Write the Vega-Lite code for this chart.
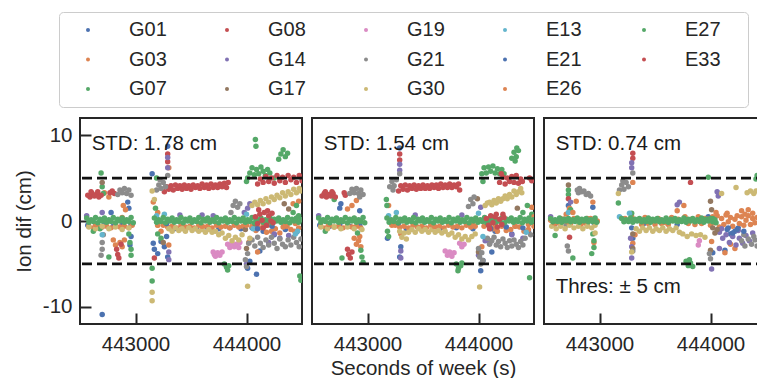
{
  "$schema": "https://vega.github.io/schema/vega-lite/v6.json",
  "padding": {"left": 13, "top": 11, "right": 5, "bottom": 0},
  "bounds": "flush",
  "datasets": {
    "thres": [{"v": 5}, {"v": -5}],
    "notes": [
      {"p": 1, "t": 442605, "v": 8.3, "txt": "STD: 1.78 cm"},
      {"p": 2, "t": 442605, "v": 8.3, "txt": "STD: 1.54 cm"},
      {"p": 3, "t": 442605, "v": 8.3, "txt": "STD: 0.74 cm"},
      {"p": 3, "t": 442605, "v": -8.4, "txt": "Thres: ± 5 cm"}
    ],
    "p1": [
      {"s":"G01","t":442570,"v":-0.5},{"s":"G01","t":442640,"v":-0.6},{"s":"G01","t":442720,"v":-0.4},{"s":"G01","t":442800,"v":-0.6},{"s":"G01","t":442880,"v":-0.5},{"s":"G01","t":442960,"v":-0.4},{"s":"G01","t":442700,"v":-10.9},{"s":"G01","t":442930,"v":2.2},{"s":"G01","t":442940,"v":1.5},{"s":"G01","t":442950,"v":-2.8},{"s":"G01","t":442960,"v":-1.8},{"s":"G01","t":442780,"v":1.0},{"s":"G01","t":443150,"v":5.5},{"s":"G01","t":443160,"v":-2.6},{"s":"G01","t":443170,"v":-3.3},{"s":"G01","t":443200,"v":-3.8},{"s":"G01","t":443230,"v":-2.4},{"s":"G01","t":443260,"v":-3.0},{"s":"G01","t":443290,"v":8.7},{"s":"G01","t":443290,"v":-4.2},{"s":"G01","t":443280,"v":-1.8},{"s":"G01","t":443350,"v":-0.9},{"s":"G01","t":443450,"v":-0.8},{"s":"G01","t":443550,"v":-0.9},{"s":"G01","t":443650,"v":-0.8},{"s":"G01","t":443750,"v":-0.9},{"s":"G01","t":443850,"v":-0.8},{"s":"G01","t":443950,"v":-0.9},{"s":"G01","t":444050,"v":-0.8},{"s":"G01","t":444010,"v":-5.5},{"s":"G01","t":444030,"v":-4.7},{"s":"G01","t":444090,"v":-6.2},{"s":"G01","t":444150,"v":-1.2},{"s":"G01","t":444250,"v":-1.6},{"s":"G01","t":444350,"v":-1.0},{"s":"G01","t":444450,"v":-1.3},{"s":"G01","t":444120,"v":-3.5},
      {"s":"G03","t":442580,"v":-0.6},{"s":"G03","t":442620,"v":-0.8},{"s":"G03","t":442660,"v":-0.5},{"s":"G03","t":442700,"v":-0.7},{"s":"G03","t":442740,"v":-0.6},{"s":"G03","t":442780,"v":-0.8},{"s":"G03","t":442820,"v":-0.5},{"s":"G03","t":442860,"v":-0.7},{"s":"G03","t":442900,"v":-0.6},{"s":"G03","t":442940,"v":-0.8},{"s":"G03","t":442970,"v":-0.5},{"s":"G03","t":442800,"v":-2.2},{"s":"G03","t":442820,"v":-2.8},{"s":"G03","t":442860,"v":-2.5},{"s":"G03","t":442880,"v":-3.0},{"s":"G03","t":442900,"v":-2.2},{"s":"G03","t":442910,"v":1.3},{"s":"G03","t":442890,"v":1.8},{"s":"G03","t":442720,"v":3.3},{"s":"G03","t":442760,"v":2.8},{"s":"G03","t":443160,"v":2.2},{"s":"G03","t":443200,"v":1.0},{"s":"G03","t":443230,"v":-1.2},{"s":"G03","t":443300,"v":6.2},{"s":"G03","t":443300,"v":-2.8},
      {"s":"G03","t":443250,"v":-0.5},{"s":"G03","t":443290,"v":-0.7},{"s":"G03","t":443330,"v":-0.6},{"s":"G03","t":443370,"v":-0.8},{"s":"G03","t":443410,"v":-0.5},{"s":"G03","t":443450,"v":-0.7},{"s":"G03","t":443490,"v":-0.6},{"s":"G03","t":443530,"v":-0.8},{"s":"G03","t":443570,"v":-0.5},{"s":"G03","t":443610,"v":-0.7},{"s":"G03","t":443650,"v":-0.6},{"s":"G03","t":443690,"v":-0.8},{"s":"G03","t":443730,"v":-0.5},{"s":"G03","t":443770,"v":-0.7},{"s":"G03","t":443810,"v":-0.6},{"s":"G03","t":443850,"v":-0.8},{"s":"G03","t":443890,"v":-0.5},{"s":"G03","t":443930,"v":-0.7},{"s":"G03","t":443970,"v":-0.6},
      {"s":"G03","t":444050,"v":-0.6},{"s":"G03","t":444085,"v":-1.1},{"s":"G03","t":444120,"v":-0.8},{"s":"G03","t":444155,"v":-0.7},{"s":"G03","t":444190,"v":-0.5},{"s":"G03","t":444225,"v":-1.2},{"s":"G03","t":444260,"v":-0.9},{"s":"G03","t":444330,"v":-0.7},{"s":"G03","t":444365,"v":-0.6},{"s":"G03","t":444400,"v":-1.0},{"s":"G03","t":444435,"v":-1.2},{"s":"G03","t":444470,"v":-0.8},{"s":"G03","t":444180,"v":-1.3},{"s":"G03","t":444300,"v":-1.4},{"s":"G03","t":444420,"v":2.0},{"s":"G03","t":444470,"v":2.3},{"s":"G03","t":444020,"v":-2.5},{"s":"G03","t":444100,"v":-3.6},{"s":"G03","t":444440,"v":-0.3},
      {"s":"G07","t":442690,"v":5.6},{"s":"G07","t":442700,"v":4.0},{"s":"G07","t":442710,"v":3.2},{"s":"G07","t":442680,"v":-0.9},{"s":"G07","t":442760,"v":-4.2},{"s":"G07","t":442940,"v":-1.5},{"s":"G07","t":442950,"v":-2.5},{"s":"G07","t":442960,"v":-3.3},{"s":"G07","t":442960,"v":-4.0},{"s":"G07","t":442620,"v":-1.2},{"s":"G07","t":443150,"v":-5.5},{"s":"G07","t":443150,"v":-7.0},{"s":"G07","t":443190,"v":5.0},{"s":"G07","t":443180,"v":1.5},{"s":"G07","t":443200,"v":-1.5},{"s":"G07","t":443230,"v":-2.0},{"s":"G07","t":443800,"v":-5.0},{"s":"G07","t":443820,"v":-5.4},{"s":"G07","t":443840,"v":-5.2},{"s":"G07","t":443830,"v":-5.7},{"s":"G07","t":444000,"v":4.6},{"s":"G07","t":444010,"v":5.0},{"s":"G07","t":444030,"v":5.6},{"s":"G07","t":444050,"v":6.2},{"s":"G07","t":444070,"v":5.4},{"s":"G07","t":444090,"v":6.0},{"s":"G07","t":444110,"v":5.5},{"s":"G07","t":444130,"v":6.3},{"s":"G07","t":444150,"v":5.8},{"s":"G07","t":444170,"v":5.3},{"s":"G07","t":444190,"v":6.0},{"s":"G07","t":444210,"v":5.6},{"s":"G07","t":444250,"v":5.0},{"s":"G07","t":444080,"v":9.5},{"s":"G07","t":444085,"v":8.7},{"s":"G07","t":444290,"v":7.2},{"s":"G07","t":444310,"v":7.8},{"s":"G07","t":444330,"v":8.3},{"s":"G07","t":444350,"v":7.5},{"s":"G07","t":444370,"v":7.9},{"s":"G07","t":444480,"v":-6.4},{"s":"G07","t":444490,"v":-6.9},{"s":"G07","t":444420,"v":1.0},{"s":"G07","t":444470,"v":0.6},{"s":"G07","t":444450,"v":1.8},
      {"s":"G08","t":442570,"v":3.0},{"s":"G08","t":442590,"v":2.8},{"s":"G08","t":442610,"v":3.2},{"s":"G08","t":442630,"v":2.9},{"s":"G08","t":442650,"v":3.1},{"s":"G08","t":442670,"v":2.8},{"s":"G08","t":442690,"v":3.0},{"s":"G08","t":442600,"v":3.4},{"s":"G08","t":442660,"v":3.4},{"s":"G08","t":442770,"v":3.3},{"s":"G08","t":442790,"v":3.5},{"s":"G08","t":442810,"v":3.2},{"s":"G08","t":442830,"v":-3.3},{"s":"G08","t":442840,"v":-3.9},{"s":"G08","t":442850,"v":-4.3},{"s":"G08","t":442870,"v":-2.7},{"s":"G08","t":443170,"v":-4.3},{"s":"G08","t":443290,"v":7.8},{"s":"G08","t":443290,"v":6.9},
      {"s":"G08","t":443260,"v":3.4},{"s":"G08","t":443280,"v":4.0},{"s":"G08","t":443300,"v":3.7},{"s":"G08","t":443320,"v":4.1},{"s":"G08","t":443340,"v":3.6},{"s":"G08","t":443360,"v":4.2},{"s":"G08","t":443380,"v":3.8},{"s":"G08","t":443400,"v":4.1},{"s":"G08","t":443420,"v":3.7},{"s":"G08","t":443440,"v":4.2},{"s":"G08","t":443460,"v":3.8},{"s":"G08","t":443480,"v":4.1},{"s":"G08","t":443500,"v":3.7},{"s":"G08","t":443520,"v":4.2},{"s":"G08","t":443540,"v":3.9},{"s":"G08","t":443560,"v":4.1},{"s":"G08","t":443580,"v":3.8},{"s":"G08","t":443600,"v":4.3},{"s":"G08","t":443620,"v":3.9},{"s":"G08","t":443640,"v":4.2},{"s":"G08","t":443660,"v":3.8},{"s":"G08","t":443680,"v":4.3},{"s":"G08","t":443700,"v":3.9},{"s":"G08","t":443720,"v":4.2},{"s":"G08","t":443740,"v":3.9},{"s":"G08","t":443760,"v":4.3},{"s":"G08","t":443780,"v":4.0},{"s":"G08","t":443800,"v":4.4},{"s":"G08","t":443820,"v":3.9},{"s":"G08","t":443835,"v":4.5},
      {"s":"G14","t":442560,"v":0.6},{"s":"G14","t":442700,"v":1.0},{"s":"G14","t":443290,"v":7.4},{"s":"G14","t":443290,"v":6.2},{"s":"G14","t":443300,"v":-3.6},{"s":"G14","t":443300,"v":-4.5},{"s":"G14","t":443400,"v":0.7},{"s":"G14","t":443600,"v":0.7},{"s":"G14","t":443700,"v":0.6},{"s":"G14","t":443980,"v":1.0},{"s":"G14","t":444000,"v":-5.0},{"s":"G14","t":444010,"v":1.5},{"s":"G14","t":444030,"v":2.0},{"s":"G14","t":444200,"v":-2.5},{"s":"G14","t":444250,"v":-1.5},{"s":"G14","t":444300,"v":-2.0},{"s":"G14","t":444380,"v":-1.7},
      {"s":"G17","t":442700,"v":4.5},{"s":"G17","t":443250,"v":-2.5},{"s":"G17","t":443990,"v":-1.0},{"s":"G17","t":444000,"v":-3.2},{"s":"G17","t":444080,"v":-0.5},{"s":"G17","t":444340,"v":2.0},{"s":"G17","t":444380,"v":1.4},
      {"s":"G19","t":443700,"v":-3.6},{"s":"G19","t":443710,"v":-3.9},{"s":"G19","t":443720,"v":-4.1},{"s":"G19","t":443740,"v":-3.7},{"s":"G19","t":443760,"v":-4.0},{"s":"G19","t":443780,"v":-3.6},{"s":"G19","t":443830,"v":-2.7},{"s":"G19","t":443850,"v":-3.1},{"s":"G19","t":443870,"v":-2.6},{"s":"G19","t":443890,"v":-3.0},{"s":"G19","t":443910,"v":-2.7},{"s":"G19","t":443930,"v":-3.1},{"s":"G19","t":443940,"v":-2.5},
      {"s":"G21","t":442840,"v":3.1},{"s":"G21","t":442860,"v":3.6},{"s":"G21","t":442880,"v":3.3},{"s":"G21","t":442900,"v":3.8},{"s":"G21","t":442920,"v":3.2},{"s":"G21","t":442940,"v":3.6},{"s":"G21","t":442960,"v":3.0},{"s":"G21","t":442700,"v":-2.5},{"s":"G21","t":442700,"v":-3.3},{"s":"G21","t":442690,"v":-4.0},{"s":"G21","t":442710,"v":-1.6},{"s":"G21","t":443190,"v":3.6},{"s":"G21","t":443210,"v":4.2},{"s":"G21","t":443230,"v":3.8},{"s":"G21","t":443250,"v":4.5},{"s":"G21","t":443270,"v":4.0},{"s":"G21","t":443220,"v":4.8},{"s":"G21","t":443290,"v":5.3},{"s":"G21","t":443860,"v":1.0},{"s":"G21","t":443880,"v":1.8},{"s":"G21","t":443900,"v":2.3},{"s":"G21","t":443920,"v":1.6},{"s":"G21","t":443940,"v":2.0},{"s":"G21","t":443990,"v":-4.5},{"s":"G21","t":444000,"v":-5.3},{"s":"G21","t":444010,"v":-3.8},{"s":"G21","t":444020,"v":-2.6},
      {"s":"G21","t":444050,"v":-2.2},{"s":"G21","t":444075,"v":-2.9},{"s":"G21","t":444100,"v":-1.9},{"s":"G21","t":444125,"v":-2.6},{"s":"G21","t":444150,"v":-3.1},{"s":"G21","t":444175,"v":-2.2},{"s":"G21","t":444200,"v":-2.8},{"s":"G21","t":444225,"v":-1.9},{"s":"G21","t":444250,"v":-2.6},{"s":"G21","t":444275,"v":-3.2},{"s":"G21","t":444300,"v":-2.1},{"s":"G21","t":444325,"v":-2.7},{"s":"G21","t":444350,"v":-3.0},{"s":"G21","t":444375,"v":-2.2},{"s":"G21","t":444400,"v":-2.8},{"s":"G21","t":444425,"v":-1.9},{"s":"G21","t":444450,"v":-2.5},{"s":"G21","t":444475,"v":-3.0},{"s":"G21","t":444490,"v":-2.1},
      {"s":"G30","t":442580,"v":-0.7},{"s":"G30","t":442640,"v":-0.9},{"s":"G30","t":442700,"v":-0.6},{"s":"G30","t":442760,"v":-0.9},{"s":"G30","t":442820,"v":-0.7},{"s":"G30","t":442880,"v":-1.0},{"s":"G30","t":442940,"v":-0.8},{"s":"G30","t":443150,"v":-8.3},{"s":"G30","t":443150,"v":-9.3},{"s":"G30","t":443150,"v":3.5},{"s":"G30","t":443170,"v":2.5},{"s":"G30","t":443200,"v":-0.5},
      {"s":"G30","t":443300,"v":-0.9},{"s":"G30","t":443330,"v":-1.2},{"s":"G30","t":443360,"v":-0.8},{"s":"G30","t":443390,"v":-1.1},{"s":"G30","t":443420,"v":-0.9},{"s":"G30","t":443450,"v":-1.2},{"s":"G30","t":443480,"v":-0.8},{"s":"G30","t":443510,"v":-1.1},{"s":"G30","t":443540,"v":-0.9},{"s":"G30","t":443570,"v":-1.2},{"s":"G30","t":443600,"v":-1.0},{"s":"G30","t":443630,"v":-1.3},{"s":"G30","t":443660,"v":-1.0},{"s":"G30","t":443690,"v":-1.3},{"s":"G30","t":443720,"v":-1.2},{"s":"G30","t":443750,"v":-1.6},{"s":"G30","t":443780,"v":-1.4},{"s":"G30","t":443810,"v":-2.0},{"s":"G30","t":443840,"v":-1.7},{"s":"G30","t":443870,"v":-2.3},{"s":"G30","t":443900,"v":-1.9},{"s":"G30","t":443930,"v":-2.2},{"s":"G30","t":443960,"v":-1.6},
      {"s":"G30","t":444010,"v":-7.6},{"s":"G30","t":444030,"v":-2.0},
      {"s":"G30","t":444050,"v":1.8},{"s":"G30","t":444075,"v":2.2},{"s":"G30","t":444100,"v":1.9},{"s":"G30","t":444125,"v":2.4},{"s":"G30","t":444150,"v":2.0},{"s":"G30","t":444175,"v":2.6},{"s":"G30","t":444200,"v":2.2},{"s":"G30","t":444225,"v":2.8},{"s":"G30","t":444250,"v":2.5},{"s":"G30","t":444275,"v":3.0},{"s":"G30","t":444300,"v":2.7},{"s":"G30","t":444325,"v":3.3},{"s":"G30","t":444350,"v":2.9},{"s":"G30","t":444375,"v":3.4},{"s":"G30","t":444400,"v":3.1},{"s":"G30","t":444425,"v":3.7},{"s":"G30","t":444450,"v":3.3},{"s":"G30","t":444475,"v":3.8},{"s":"G30","t":444490,"v":3.5},
      {"s":"E13","t":442700,"v":-1.6},{"s":"E13","t":443190,"v":0.6},{"s":"E13","t":443260,"v":0.8},{"s":"E13","t":444000,"v":0.8},{"s":"E13","t":444060,"v":-0.9},{"s":"E13","t":444440,"v":-1.5},{"s":"E13","t":444460,"v":-1.2},
      {"s":"E21","t":443280,"v":-0.3},{"s":"E21","t":444100,"v":-0.9},{"s":"E21","t":444230,"v":-0.6},{"s":"E21","t":444350,"v":-0.4},
      {"s":"E26","t":442640,"v":-0.4},{"s":"E26","t":442880,"v":0.4},{"s":"E26","t":443200,"v":-0.5},{"s":"E26","t":443600,"v":-0.6},{"s":"E26","t":444000,"v":-0.5},{"s":"E26","t":444150,"v":-0.3},{"s":"E26","t":444350,"v":-0.5},{"s":"E26","t":444450,"v":-0.2},
      {"s":"E27","t":442560,"v":0.35},{"s":"E27","t":442580,"v":-0.15},{"s":"E27","t":442600,"v":0.15},{"s":"E27","t":442620,"v":-0.05},{"s":"E27","t":442640,"v":0.4},{"s":"E27","t":442660,"v":-0.2},{"s":"E27","t":442680,"v":0.2},{"s":"E27","t":442700,"v":0.0},{"s":"E27","t":442720,"v":0.35},{"s":"E27","t":442740,"v":-0.15},{"s":"E27","t":442760,"v":0.15},{"s":"E27","t":442780,"v":-0.05},{"s":"E27","t":442800,"v":0.4},{"s":"E27","t":442820,"v":-0.2},{"s":"E27","t":442840,"v":0.2},{"s":"E27","t":442860,"v":0.0},{"s":"E27","t":442880,"v":0.35},{"s":"E27","t":442900,"v":-0.15},{"s":"E27","t":442920,"v":0.15},{"s":"E27","t":442940,"v":-0.05},{"s":"E27","t":442960,"v":0.4},{"s":"E27","t":442980,"v":-0.2},
      {"s":"E27","t":443170,"v":0.35},{"s":"E27","t":443190,"v":-0.15},{"s":"E27","t":443210,"v":0.15},{"s":"E27","t":443230,"v":-0.05},{"s":"E27","t":443250,"v":0.4},{"s":"E27","t":443270,"v":-0.2},{"s":"E27","t":443290,"v":0.2},{"s":"E27","t":443310,"v":0.0},{"s":"E27","t":443330,"v":0.35},{"s":"E27","t":443350,"v":-0.15},{"s":"E27","t":443370,"v":0.15},{"s":"E27","t":443390,"v":-0.05},{"s":"E27","t":443410,"v":0.4},{"s":"E27","t":443430,"v":-0.2},{"s":"E27","t":443450,"v":0.2},{"s":"E27","t":443470,"v":0.0},{"s":"E27","t":443490,"v":0.35},{"s":"E27","t":443510,"v":-0.15},{"s":"E27","t":443530,"v":0.15},{"s":"E27","t":443550,"v":-0.05},{"s":"E27","t":443570,"v":0.4},{"s":"E27","t":443590,"v":-0.2},{"s":"E27","t":443610,"v":0.2},{"s":"E27","t":443630,"v":0.0},{"s":"E27","t":443650,"v":0.35},{"s":"E27","t":443670,"v":-0.15},{"s":"E27","t":443690,"v":0.15},{"s":"E27","t":443710,"v":-0.05},{"s":"E27","t":443730,"v":0.4},{"s":"E27","t":443750,"v":-0.2},{"s":"E27","t":443770,"v":0.2},{"s":"E27","t":443790,"v":0.0},{"s":"E27","t":443810,"v":0.35},{"s":"E27","t":443830,"v":-0.15},{"s":"E27","t":443850,"v":0.15},{"s":"E27","t":443870,"v":-0.05},{"s":"E27","t":443890,"v":0.4},{"s":"E27","t":443910,"v":-0.2},{"s":"E27","t":443930,"v":0.2},{"s":"E27","t":443950,"v":0.0},{"s":"E27","t":443970,"v":0.35},{"s":"E27","t":443990,"v":-0.15},{"s":"E27","t":444010,"v":0.15},{"s":"E27","t":444030,"v":-0.05},{"s":"E27","t":444050,"v":0.4},{"s":"E27","t":444070,"v":-0.2},{"s":"E27","t":444090,"v":0.2},{"s":"E27","t":444110,"v":0.0},{"s":"E27","t":444130,"v":0.35},{"s":"E27","t":444150,"v":-0.15},{"s":"E27","t":444170,"v":0.15},{"s":"E27","t":444190,"v":-0.05},{"s":"E27","t":444210,"v":0.4},{"s":"E27","t":444230,"v":-0.2},{"s":"E27","t":444250,"v":0.2},{"s":"E27","t":444270,"v":0.0},{"s":"E27","t":444290,"v":0.35},{"s":"E27","t":444310,"v":-0.15},{"s":"E27","t":444330,"v":0.15},{"s":"E27","t":444350,"v":-0.05},{"s":"E27","t":444370,"v":0.4},{"s":"E27","t":444390,"v":-0.2},{"s":"E27","t":444410,"v":0.2},{"s":"E27","t":444430,"v":0.0},{"s":"E27","t":444450,"v":0.35},{"s":"E27","t":444470,"v":-0.15},{"s":"E27","t":444490,"v":0.15},
      {"s":"E33","t":444080,"v":0.5},{"s":"E33","t":444100,"v":-0.3},{"s":"E33","t":444110,"v":1.3},{"s":"E33","t":444120,"v":0.8},{"s":"E33","t":444140,"v":0.1},{"s":"E33","t":444150,"v":-0.8},{"s":"E33","t":444160,"v":1.0},{"s":"E33","t":444180,"v":-0.5},{"s":"E33","t":444190,"v":1.2},{"s":"E33","t":444200,"v":0.6},{"s":"E33","t":444220,"v":0.0},{"s":"E33","t":444230,"v":0.9},{"s":"E33","t":444240,"v":-0.2},
      {"s":"E33","t":444100,"v":4.3},{"s":"E33","t":444125,"v":4.9},{"s":"E33","t":444150,"v":4.5},{"s":"E33","t":444175,"v":5.2},{"s":"E33","t":444200,"v":4.6},{"s":"E33","t":444225,"v":5.0},{"s":"E33","t":444250,"v":4.4},{"s":"E33","t":444275,"v":5.3},{"s":"E33","t":444300,"v":4.7},{"s":"E33","t":444325,"v":5.1},{"s":"E33","t":444350,"v":4.5},{"s":"E33","t":444375,"v":5.3},{"s":"E33","t":444400,"v":4.8},{"s":"E33","t":444425,"v":5.1},{"s":"E33","t":444450,"v":4.5},{"s":"E33","t":444475,"v":5.3},{"s":"E33","t":444500,"v":4.7}
    ],
    "p2": [
      {"s":"G01","t":442570,"v":-0.5},{"s":"G01","t":442660,"v":-0.6},{"s":"G01","t":442750,"v":-0.4},{"s":"G01","t":442840,"v":-0.6},{"s":"G01","t":442930,"v":-0.5},{"s":"G01","t":442750,"v":1.5},{"s":"G01","t":442760,"v":2.0},{"s":"G01","t":442930,"v":1.2},{"s":"G01","t":443180,"v":-2.0},{"s":"G01","t":443290,"v":8.5},{"s":"G01","t":443300,"v":-3.0},{"s":"G01","t":443290,"v":-4.2},{"s":"G01","t":443350,"v":-0.9},{"s":"G01","t":443500,"v":-0.8},{"s":"G01","t":443650,"v":-0.9},{"s":"G01","t":443800,"v":-0.8},{"s":"G01","t":443950,"v":-0.9},{"s":"G01","t":444020,"v":-5.8},{"s":"G01","t":444040,"v":-4.6},{"s":"G01","t":444120,"v":-3.6},{"s":"G01","t":444150,"v":-1.2},{"s":"G01","t":444300,"v":-1.5},{"s":"G01","t":444450,"v":-1.2},
      {"s":"G03","t":442580,"v":-0.6},{"s":"G03","t":442620,"v":-0.8},{"s":"G03","t":442660,"v":-0.5},{"s":"G03","t":442700,"v":-0.7},{"s":"G03","t":442740,"v":-0.6},{"s":"G03","t":442780,"v":-0.8},{"s":"G03","t":442820,"v":-0.5},{"s":"G03","t":442860,"v":-0.7},{"s":"G03","t":442900,"v":-0.6},{"s":"G03","t":442940,"v":-0.8},{"s":"G03","t":442880,"v":-2.0},{"s":"G03","t":442900,"v":-2.7},{"s":"G03","t":442920,"v":-2.3},{"s":"G03","t":442940,"v":-3.0},{"s":"G03","t":442930,"v":-1.8},{"s":"G03","t":442820,"v":1.4},{"s":"G03","t":442860,"v":1.8},{"s":"G03","t":442900,"v":2.4},{"s":"G03","t":443190,"v":1.8},{"s":"G03","t":443300,"v":-1.5},
      {"s":"G03","t":443250,"v":-0.5},{"s":"G03","t":443290,"v":-0.7},{"s":"G03","t":443330,"v":-0.6},{"s":"G03","t":443370,"v":-0.8},{"s":"G03","t":443410,"v":-0.5},{"s":"G03","t":443450,"v":-0.7},{"s":"G03","t":443490,"v":-0.6},{"s":"G03","t":443530,"v":-0.8},{"s":"G03","t":443570,"v":-0.5},{"s":"G03","t":443610,"v":-0.7},{"s":"G03","t":443650,"v":-0.6},{"s":"G03","t":443690,"v":-0.8},{"s":"G03","t":443730,"v":-0.5},{"s":"G03","t":443770,"v":-0.7},{"s":"G03","t":443810,"v":-0.6},{"s":"G03","t":443850,"v":-0.8},{"s":"G03","t":443890,"v":-0.5},{"s":"G03","t":443930,"v":-0.7},{"s":"G03","t":443970,"v":-0.6},
      {"s":"G03","t":444030,"v":-3.0},{"s":"G03","t":444050,"v":-0.6},{"s":"G03","t":444090,"v":-2.2},{"s":"G03","t":444130,"v":-0.9},{"s":"G03","t":444170,"v":-1.2},{"s":"G03","t":444210,"v":-0.6},{"s":"G03","t":444250,"v":-1.1},{"s":"G03","t":444290,"v":-1.0},{"s":"G03","t":444330,"v":-0.6},{"s":"G03","t":444370,"v":-0.7},{"s":"G03","t":444410,"v":-1.2},{"s":"G03","t":444450,"v":-1.0},{"s":"G03","t":444480,"v":1.6},{"s":"G03","t":444500,"v":-0.6},
      {"s":"G07","t":442620,"v":-1.2},{"s":"G07","t":442700,"v":2.5},{"s":"G07","t":442770,"v":-4.3},{"s":"G07","t":442910,"v":-1.4},{"s":"G07","t":442940,"v":-3.4},{"s":"G07","t":442950,"v":-4.2},{"s":"G07","t":442960,"v":-4.8},{"s":"G07","t":443170,"v":2.5},{"s":"G07","t":443175,"v":1.8},{"s":"G07","t":443180,"v":-1.2},{"s":"G07","t":443190,"v":-1.8},{"s":"G07","t":443800,"v":-5.0},{"s":"G07","t":443815,"v":-5.8},{"s":"G07","t":443820,"v":-5.5},{"s":"G07","t":443840,"v":-5.2},{"s":"G07","t":443850,"v":-4.9},{"s":"G07","t":444030,"v":5.5},{"s":"G07","t":444040,"v":4.6},{"s":"G07","t":444050,"v":6.2},{"s":"G07","t":444070,"v":5.6},{"s":"G07","t":444090,"v":6.3},{"s":"G07","t":444110,"v":5.8},{"s":"G07","t":444130,"v":6.4},{"s":"G07","t":444150,"v":5.6},{"s":"G07","t":444170,"v":6.1},{"s":"G07","t":444190,"v":5.5},{"s":"G07","t":444210,"v":6.0},{"s":"G07","t":444230,"v":5.5},{"s":"G07","t":444300,"v":7.3},{"s":"G07","t":444320,"v":8.0},{"s":"G07","t":444330,"v":7.0},{"s":"G07","t":444340,"v":7.5},{"s":"G07","t":444345,"v":8.5},{"s":"G07","t":444360,"v":8.2},{"s":"G07","t":444400,"v":1.0},{"s":"G07","t":444440,"v":1.8},{"s":"G07","t":444460,"v":-6.6},{"s":"G07","t":444480,"v":0.8},
      {"s":"G08","t":442590,"v":2.9},{"s":"G08","t":442610,"v":3.2},{"s":"G08","t":442620,"v":3.4},{"s":"G08","t":442630,"v":2.8},{"s":"G08","t":442650,"v":3.1},{"s":"G08","t":442670,"v":2.9},{"s":"G08","t":442680,"v":3.4},{"s":"G08","t":442690,"v":3.2},{"s":"G08","t":442710,"v":2.8},{"s":"G08","t":442790,"v":3.3},{"s":"G08","t":442800,"v":3.0},{"s":"G08","t":442820,"v":-3.3},{"s":"G08","t":442830,"v":-3.9},{"s":"G08","t":442845,"v":-4.3},{"s":"G08","t":442860,"v":-3.6},{"s":"G08","t":443290,"v":7.8},{"s":"G08","t":443290,"v":7.1},
      {"s":"G08","t":443280,"v":3.5},{"s":"G08","t":443300,"v":4.1},{"s":"G08","t":443320,"v":3.7},{"s":"G08","t":443340,"v":4.2},{"s":"G08","t":443360,"v":3.6},{"s":"G08","t":443380,"v":4.1},{"s":"G08","t":443400,"v":3.8},{"s":"G08","t":443420,"v":4.2},{"s":"G08","t":443440,"v":3.7},{"s":"G08","t":443460,"v":4.1},{"s":"G08","t":443480,"v":3.8},{"s":"G08","t":443500,"v":4.2},{"s":"G08","t":443520,"v":3.8},{"s":"G08","t":443540,"v":4.1},{"s":"G08","t":443560,"v":3.8},{"s":"G08","t":443580,"v":4.2},{"s":"G08","t":443600,"v":3.9},{"s":"G08","t":443620,"v":4.2},{"s":"G08","t":443640,"v":3.8},{"s":"G08","t":443660,"v":4.3},{"s":"G08","t":443680,"v":3.9},{"s":"G08","t":443700,"v":4.2},{"s":"G08","t":443720,"v":3.9},{"s":"G08","t":443740,"v":4.3},{"s":"G08","t":443760,"v":3.9},{"s":"G08","t":443780,"v":4.2},{"s":"G08","t":443800,"v":4.0},{"s":"G08","t":443820,"v":4.3},{"s":"G08","t":443830,"v":3.6},{"s":"G08","t":444460,"v":5.0},{"s":"G08","t":444480,"v":4.7},
      {"s":"G14","t":442560,"v":0.6},{"s":"G14","t":443290,"v":6.6},{"s":"G14","t":443290,"v":5.9},{"s":"G14","t":443300,"v":-3.5},{"s":"G14","t":443300,"v":-4.3},{"s":"G14","t":443430,"v":0.7},{"s":"G14","t":443850,"v":0.7},{"s":"G14","t":444000,"v":-4.0},{"s":"G14","t":444020,"v":1.6},{"s":"G14","t":444060,"v":-2.3},{"s":"G14","t":444100,"v":-2.6},{"s":"G14","t":444300,"v":-1.6},{"s":"G14","t":444400,"v":-2.0},
      {"s":"G17","t":443990,"v":2.6},{"s":"G17","t":444000,"v":-3.6},{"s":"G17","t":444100,"v":-0.6},{"s":"G17","t":444350,"v":1.5},
      {"s":"G19","t":443700,"v":-3.5},{"s":"G19","t":443720,"v":-4.0},{"s":"G19","t":443740,"v":-3.6},{"s":"G19","t":443760,"v":-4.1},{"s":"G19","t":443780,"v":-3.7},{"s":"G19","t":443830,"v":-2.6},{"s":"G19","t":443850,"v":-3.0},{"s":"G19","t":443870,"v":-2.7},
      {"s":"G21","t":442840,"v":3.2},{"s":"G21","t":442860,"v":3.7},{"s":"G21","t":442880,"v":3.3},{"s":"G21","t":442900,"v":3.8},{"s":"G21","t":442920,"v":3.2},{"s":"G21","t":442930,"v":2.8},{"s":"G21","t":442940,"v":3.6},{"s":"G21","t":442960,"v":3.1},{"s":"G21","t":443200,"v":4.0},{"s":"G21","t":443220,"v":4.6},{"s":"G21","t":443230,"v":3.6},{"s":"G21","t":443240,"v":4.1},{"s":"G21","t":443260,"v":4.8},{"s":"G21","t":443290,"v":5.5},{"s":"G21","t":443910,"v":1.7},{"s":"G21","t":443930,"v":2.5},{"s":"G21","t":443950,"v":2.0},{"s":"G21","t":443960,"v":2.8},{"s":"G21","t":444000,"v":-3.2},{"s":"G21","t":444010,"v":-4.2},{"s":"G21","t":444020,"v":-5.0},{"s":"G21","t":444030,"v":-3.7},{"s":"G21","t":444040,"v":-4.6},
      {"s":"G21","t":444080,"v":-2.0},{"s":"G21","t":444100,"v":-2.7},{"s":"G21","t":444120,"v":-2.3},{"s":"G21","t":444140,"v":-1.9},{"s":"G21","t":444160,"v":-2.8},{"s":"G21","t":444180,"v":-2.4},{"s":"G21","t":444200,"v":-3.0},{"s":"G21","t":444220,"v":-2.1},{"s":"G21","t":444240,"v":-2.6},{"s":"G21","t":444260,"v":-3.1},{"s":"G21","t":444280,"v":-2.3},{"s":"G21","t":444300,"v":-2.9},{"s":"G21","t":444320,"v":-2.2},{"s":"G21","t":444340,"v":-2.7},{"s":"G21","t":444360,"v":-3.1},{"s":"G21","t":444380,"v":-2.4},{"s":"G21","t":444400,"v":-2.8},{"s":"G21","t":444420,"v":-2.0},{"s":"G21","t":444470,"v":-1.6},
      {"s":"G30","t":442580,"v":-0.7},{"s":"G30","t":442640,"v":-0.9},{"s":"G30","t":442700,"v":-0.7},{"s":"G30","t":442760,"v":-0.9},{"s":"G30","t":442820,"v":-0.7},{"s":"G30","t":442880,"v":-0.9},{"s":"G30","t":442950,"v":-1.0},
      {"s":"G30","t":443290,"v":-1.2},{"s":"G30","t":443310,"v":-1.9},{"s":"G30","t":443330,"v":-1.4},{"s":"G30","t":443350,"v":-2.1},{"s":"G30","t":443370,"v":-1.3},{"s":"G30","t":443400,"v":-1.0},{"s":"G30","t":443430,"v":-1.3},{"s":"G30","t":443460,"v":-0.9},{"s":"G30","t":443490,"v":-1.2},{"s":"G30","t":443520,"v":-1.0},{"s":"G30","t":443550,"v":-1.3},{"s":"G30","t":443580,"v":-1.0},{"s":"G30","t":443610,"v":-1.3},{"s":"G30","t":443640,"v":-1.1},{"s":"G30","t":443670,"v":-1.4},{"s":"G30","t":443700,"v":-1.2},{"s":"G30","t":443730,"v":-1.6},{"s":"G30","t":443760,"v":-1.4},{"s":"G30","t":443790,"v":-1.9},{"s":"G30","t":443820,"v":-1.6},{"s":"G30","t":443850,"v":-2.1},{"s":"G30","t":443880,"v":-1.8},{"s":"G30","t":443910,"v":-2.2},{"s":"G30","t":443940,"v":-1.8},{"s":"G30","t":443970,"v":-1.5},{"s":"G30","t":444010,"v":-7.7},
      {"s":"G30","t":444060,"v":1.8},{"s":"G30","t":444080,"v":2.1},{"s":"G30","t":444100,"v":2.2},{"s":"G30","t":444120,"v":1.9},{"s":"G30","t":444140,"v":2.4},{"s":"G30","t":444160,"v":2.1},{"s":"G30","t":444180,"v":2.6},{"s":"G30","t":444200,"v":2.3},{"s":"G30","t":444220,"v":2.6},{"s":"G30","t":444240,"v":2.9},{"s":"G30","t":444260,"v":2.6},{"s":"G30","t":444280,"v":3.1},{"s":"G30","t":444300,"v":2.8},{"s":"G30","t":444320,"v":3.5},{"s":"G30","t":444340,"v":3.1},{"s":"G30","t":444360,"v":3.4},{"s":"G30","t":444380,"v":3.8},{"s":"G30","t":444390,"v":3.3},
      {"s":"E13","t":443190,"v":0.6},{"s":"E13","t":443260,"v":1.0},{"s":"E13","t":444000,"v":0.9},{"s":"E13","t":444040,"v":-1.8},{"s":"E13","t":444430,"v":-1.3},
      {"s":"E21","t":443280,"v":-0.2},{"s":"E21","t":444110,"v":-0.9},{"s":"E21","t":444250,"v":-0.7},{"s":"E21","t":444400,"v":-0.8},
      {"s":"E26","t":442650,"v":-0.4},{"s":"E26","t":442880,"v":0.3},{"s":"E26","t":443220,"v":-0.5},{"s":"E26","t":443600,"v":-0.6},{"s":"E26","t":443950,"v":-0.5},{"s":"E26","t":444150,"v":-0.4},{"s":"E26","t":444330,"v":-0.6},{"s":"E26","t":444450,"v":-0.4},{"s":"E26","t":444500,"v":0.5},
      {"s":"E27","t":442560,"v":0.35},{"s":"E27","t":442580,"v":-0.15},{"s":"E27","t":442600,"v":0.15},{"s":"E27","t":442620,"v":-0.05},{"s":"E27","t":442640,"v":0.4},{"s":"E27","t":442660,"v":-0.2},{"s":"E27","t":442680,"v":0.2},{"s":"E27","t":442700,"v":0.0},{"s":"E27","t":442720,"v":0.35},{"s":"E27","t":442740,"v":-0.15},{"s":"E27","t":442760,"v":0.15},{"s":"E27","t":442780,"v":-0.05},{"s":"E27","t":442800,"v":0.4},{"s":"E27","t":442820,"v":-0.2},{"s":"E27","t":442840,"v":0.2},{"s":"E27","t":442860,"v":0.0},{"s":"E27","t":442880,"v":0.35},{"s":"E27","t":442900,"v":-0.15},{"s":"E27","t":442920,"v":0.15},{"s":"E27","t":442940,"v":-0.05},{"s":"E27","t":442960,"v":0.4},{"s":"E27","t":442975,"v":-0.2},
      {"s":"E27","t":443175,"v":0.35},{"s":"E27","t":443195,"v":-0.15},{"s":"E27","t":443215,"v":0.15},{"s":"E27","t":443235,"v":-0.05},{"s":"E27","t":443255,"v":0.4},{"s":"E27","t":443275,"v":-0.2},{"s":"E27","t":443295,"v":0.2},{"s":"E27","t":443315,"v":0.0},{"s":"E27","t":443335,"v":0.35},{"s":"E27","t":443355,"v":-0.15},{"s":"E27","t":443375,"v":0.15},{"s":"E27","t":443395,"v":-0.05},{"s":"E27","t":443415,"v":0.4},{"s":"E27","t":443435,"v":-0.2},{"s":"E27","t":443455,"v":0.2},{"s":"E27","t":443475,"v":0.0},{"s":"E27","t":443495,"v":0.35},{"s":"E27","t":443515,"v":-0.15},{"s":"E27","t":443535,"v":0.15},{"s":"E27","t":443555,"v":-0.05},{"s":"E27","t":443575,"v":0.4},{"s":"E27","t":443595,"v":-0.2},{"s":"E27","t":443615,"v":0.2},{"s":"E27","t":443635,"v":0.0},{"s":"E27","t":443655,"v":0.35},{"s":"E27","t":443675,"v":-0.15},{"s":"E27","t":443695,"v":0.15},{"s":"E27","t":443715,"v":-0.05},{"s":"E27","t":443735,"v":0.4},{"s":"E27","t":443755,"v":-0.2},{"s":"E27","t":443775,"v":0.2},{"s":"E27","t":443795,"v":0.0},{"s":"E27","t":443815,"v":0.35},{"s":"E27","t":443835,"v":-0.15},{"s":"E27","t":443855,"v":0.15},{"s":"E27","t":443875,"v":-0.05},{"s":"E27","t":443895,"v":0.4},{"s":"E27","t":443915,"v":-0.2},{"s":"E27","t":443935,"v":0.2},{"s":"E27","t":443955,"v":0.0},{"s":"E27","t":443975,"v":0.35},{"s":"E27","t":443995,"v":-0.15},{"s":"E27","t":444015,"v":0.15},{"s":"E27","t":444035,"v":-0.05},{"s":"E27","t":444055,"v":0.4},{"s":"E27","t":444075,"v":-0.2},{"s":"E27","t":444095,"v":0.2},{"s":"E27","t":444115,"v":0.0},{"s":"E27","t":444135,"v":0.35},{"s":"E27","t":444155,"v":-0.15},{"s":"E27","t":444175,"v":0.15},{"s":"E27","t":444195,"v":-0.05},{"s":"E27","t":444215,"v":0.4},{"s":"E27","t":444235,"v":-0.2},{"s":"E27","t":444255,"v":0.2},{"s":"E27","t":444275,"v":0.0},{"s":"E27","t":444295,"v":0.35},{"s":"E27","t":444315,"v":-0.15},{"s":"E27","t":444335,"v":0.15},{"s":"E27","t":444355,"v":-0.05},{"s":"E27","t":444375,"v":0.4},{"s":"E27","t":444395,"v":-0.2},{"s":"E27","t":444415,"v":0.2},{"s":"E27","t":444435,"v":0.0},{"s":"E27","t":444455,"v":0.35},{"s":"E27","t":444475,"v":-0.15},{"s":"E27","t":444495,"v":0.15},
      {"s":"E33","t":444070,"v":0.3},{"s":"E33","t":444090,"v":-0.5},{"s":"E33","t":444100,"v":-0.9},{"s":"E33","t":444110,"v":0.6},{"s":"E33","t":444130,"v":-0.2},{"s":"E33","t":444150,"v":0.5},{"s":"E33","t":444160,"v":0.8},{"s":"E33","t":444170,"v":-0.7},{"s":"E33","t":444190,"v":0.2},{"s":"E33","t":444210,"v":-0.4},{"s":"E33","t":444220,"v":0.8},{"s":"E33","t":444230,"v":0.4},
      {"s":"E33","t":444190,"v":4.5},{"s":"E33","t":444205,"v":5.5},{"s":"E33","t":444220,"v":5.1},{"s":"E33","t":444240,"v":4.3},{"s":"E33","t":444260,"v":5.0},{"s":"E33","t":444280,"v":4.6},{"s":"E33","t":444300,"v":5.2},{"s":"E33","t":444320,"v":4.5},{"s":"E33","t":444340,"v":5.3},{"s":"E33","t":444360,"v":4.4},{"s":"E33","t":444380,"v":4.9},{"s":"E33","t":444395,"v":4.6}
    ],
    "p3": [
      {"s":"G01","t":442600,"v":-0.3},{"s":"G01","t":442720,"v":1.8},{"s":"G01","t":442730,"v":1.3},{"s":"G01","t":442940,"v":1.6},{"s":"G01","t":442950,"v":-0.2},{"s":"G01","t":443290,"v":-0.8},{"s":"G01","t":443300,"v":-2.0},{"s":"G01","t":443400,"v":-0.3},{"s":"G01","t":443700,"v":-0.4},{"s":"G01","t":443980,"v":0.5},{"s":"G01","t":444020,"v":-3.7},{"s":"G01","t":444130,"v":-3.4},{"s":"G01","t":444150,"v":-1.0},{"s":"G01","t":444180,"v":-1.5},{"s":"G01","t":444220,"v":-1.2},{"s":"G01","t":444250,"v":-0.8},
      {"s":"G03","t":442560,"v":0.1},{"s":"G03","t":442590,"v":-0.4},{"s":"G03","t":442620,"v":-0.2},{"s":"G03","t":442650,"v":-0.5},{"s":"G03","t":442680,"v":0.2},{"s":"G03","t":442700,"v":0.8},{"s":"G03","t":442730,"v":1.5},{"s":"G03","t":442740,"v":-0.3},{"s":"G03","t":442790,"v":2.3},{"s":"G03","t":442800,"v":0.1},{"s":"G03","t":442830,"v":-0.4},{"s":"G03","t":442860,"v":-0.2},{"s":"G03","t":442890,"v":-0.5},{"s":"G03","t":442920,"v":0.3},{"s":"G03","t":442940,"v":2.2},{"s":"G03","t":442950,"v":-2.5},{"s":"G03","t":442980,"v":0.0},
      {"s":"G03","t":443230,"v":0.3},{"s":"G03","t":443290,"v":0.5},{"s":"G03","t":443300,"v":4.5},{"s":"G03","t":443300,"v":-2.6},{"s":"G03","t":443320,"v":-1.6},{"s":"G03","t":443350,"v":0.1},{"s":"G03","t":443380,"v":-0.4},{"s":"G03","t":443410,"v":0.4},{"s":"G03","t":443440,"v":-0.3},{"s":"G03","t":443470,"v":0.0},{"s":"G03","t":443500,"v":-0.4},{"s":"G03","t":443530,"v":0.3},{"s":"G03","t":443560,"v":-0.3},{"s":"G03","t":443590,"v":0.1},{"s":"G03","t":443620,"v":-0.4},{"s":"G03","t":443650,"v":0.4},{"s":"G03","t":443700,"v":1.2},{"s":"G03","t":443710,"v":0.2},{"s":"G03","t":443760,"v":1.8},{"s":"G03","t":443770,"v":0.5},{"s":"G03","t":443800,"v":-0.3},{"s":"G03","t":443830,"v":0.2},{"s":"G03","t":443860,"v":-0.4},{"s":"G03","t":443890,"v":0.5},{"s":"G03","t":443920,"v":-0.3},{"s":"G03","t":443950,"v":0.3},
      {"s":"G03","t":443980,"v":0.2},{"s":"G03","t":444000,"v":-0.5},{"s":"G03","t":444010,"v":-2.4},{"s":"G03","t":444020,"v":0.5},{"s":"G03","t":444040,"v":-0.2},{"s":"G03","t":444060,"v":0.6},{"s":"G03","t":444080,"v":-0.7},{"s":"G03","t":444100,"v":0.3},{"s":"G03","t":444120,"v":-0.4},{"s":"G03","t":444130,"v":-3.7},{"s":"G03","t":444140,"v":0.7},{"s":"G03","t":444160,"v":-0.1},{"s":"G03","t":444180,"v":0.4},{"s":"G03","t":444180,"v":-2.7},{"s":"G03","t":444200,"v":-0.6},{"s":"G03","t":444220,"v":0.2},{"s":"G03","t":444220,"v":-3.2},{"s":"G03","t":444240,"v":0.6},{"s":"G03","t":444260,"v":-0.3},{"s":"G03","t":444280,"v":0.5},{"s":"G03","t":444280,"v":1.2},{"s":"G03","t":444300,"v":-0.5},{"s":"G03","t":444320,"v":0.1},{"s":"G03","t":444340,"v":0.6},{"s":"G03","t":444340,"v":1.3},{"s":"G03","t":444360,"v":-0.4},{"s":"G03","t":444380,"v":0.3},{"s":"G03","t":444400,"v":-0.2},{"s":"G03","t":444420,"v":0.4},
      {"s":"G07","t":442600,"v":-1.7},{"s":"G07","t":442720,"v":3.6},{"s":"G07","t":442720,"v":3.1},{"s":"G07","t":442740,"v":1.3},{"s":"G07","t":442760,"v":-4.3},{"s":"G07","t":442930,"v":-3.8},{"s":"G07","t":442940,"v":-1.5},{"s":"G07","t":442950,"v":-2.3},{"s":"G07","t":442950,"v":-3.1},{"s":"G07","t":443170,"v":2.1},{"s":"G07","t":443290,"v":0.9},{"s":"G07","t":443780,"v":-4.7},{"s":"G07","t":443800,"v":-5.2},{"s":"G07","t":443810,"v":-4.5},{"s":"G07","t":443820,"v":-4.9},{"s":"G07","t":443840,"v":-5.3},{"s":"G07","t":443980,"v":5.1},{"s":"G07","t":444020,"v":0.3},{"s":"G07","t":444050,"v":-0.2},{"s":"G07","t":444410,"v":4.9},{"s":"G07","t":444420,"v":5.3},
      {"s":"G08","t":442720,"v":2.6},{"s":"G08","t":442730,"v":-1.9},{"s":"G08","t":443300,"v":7.9},{"s":"G08","t":443300,"v":7.3},{"s":"G08","t":443820,"v":4.5},
      {"s":"G14","t":442560,"v":0.5},{"s":"G14","t":442740,"v":2.2},{"s":"G14","t":443280,"v":-2.0},{"s":"G14","t":443290,"v":6.8},{"s":"G14","t":443290,"v":6.2},{"s":"G14","t":443290,"v":-3.0},{"s":"G14","t":443290,"v":-4.3},{"s":"G14","t":443700,"v":1.9},{"s":"G14","t":443720,"v":2.2},{"s":"G14","t":444010,"v":-5.6},{"s":"G14","t":444060,"v":3.4},{"s":"G14","t":444070,"v":2.9},{"s":"G14","t":444080,"v":-3.2},{"s":"G14","t":444080,"v":-1.3},{"s":"G14","t":444100,"v":-0.9},{"s":"G14","t":444110,"v":-2.0},{"s":"G14","t":444140,"v":-1.6},{"s":"G14","t":444170,"v":-2.5},{"s":"G14","t":444200,"v":-1.8},{"s":"G14","t":444230,"v":-2.8},{"s":"G14","t":444250,"v":-1.1},{"s":"G14","t":444260,"v":-2.0},{"s":"G14","t":444290,"v":-2.6},{"s":"G14","t":444320,"v":-1.7},{"s":"G14","t":444350,"v":-2.3},{"s":"G14","t":444380,"v":-1.4},
      {"s":"G17","t":442720,"v":4.2},{"s":"G17","t":443300,"v":-1.5},{"s":"G17","t":443300,"v":-3.2},{"s":"G17","t":444000,"v":2.3},{"s":"G17","t":444000,"v":-3.4},{"s":"G17","t":444010,"v":1.3},{"s":"G17","t":444020,"v":-0.8},{"s":"G17","t":444040,"v":-1.4},{"s":"G17","t":444060,"v":-1.0},
      {"s":"G19","t":443890,"v":-2.8},{"s":"G19","t":443900,"v":-2.3},
      {"s":"G21","t":442700,"v":-0.5},{"s":"G21","t":442710,"v":-2.9},{"s":"G21","t":442720,"v":-3.5},{"s":"G21","t":442800,"v":3.6},{"s":"G21","t":442810,"v":3.3},{"s":"G21","t":442820,"v":3.8},{"s":"G21","t":442840,"v":3.4},{"s":"G21","t":442860,"v":3.5},{"s":"G21","t":442880,"v":3.1},{"s":"G21","t":442900,"v":3.2},{"s":"G21","t":442920,"v":2.9},{"s":"G21","t":443180,"v":3.6},{"s":"G21","t":443200,"v":4.2},{"s":"G21","t":443210,"v":4.7},{"s":"G21","t":443220,"v":3.7},{"s":"G21","t":443240,"v":4.5},{"s":"G21","t":443260,"v":4.0},{"s":"G21","t":443300,"v":5.6},{"s":"G21","t":443300,"v":-3.5},{"s":"G21","t":443990,"v":-3.8},{"s":"G21","t":444000,"v":-4.4},{"s":"G21","t":444280,"v":-2.3},{"s":"G21","t":444300,"v":-1.6},{"s":"G21","t":444310,"v":-2.9},{"s":"G21","t":444340,"v":-2.1},{"s":"G21","t":444370,"v":-2.7},{"s":"G21","t":444390,"v":-1.8},{"s":"G21","t":444400,"v":-2.2},{"s":"G21","t":444420,"v":-2.9},
      {"s":"G30","t":442570,"v":-0.6},{"s":"G30","t":442610,"v":-0.9},{"s":"G30","t":442650,"v":-0.6},{"s":"G30","t":442690,"v":-0.9},{"s":"G30","t":442730,"v":-0.5},{"s":"G30","t":442770,"v":-0.8},{"s":"G30","t":442810,"v":-0.6},{"s":"G30","t":442850,"v":-0.9},{"s":"G30","t":442890,"v":-0.6},{"s":"G30","t":442930,"v":-0.8},{"s":"G30","t":442960,"v":-0.5},{"s":"G30","t":442960,"v":-1.4},{"s":"G30","t":443170,"v":3.2},{"s":"G30","t":443290,"v":-3.6},
      {"s":"G30","t":443330,"v":-0.9},{"s":"G30","t":443360,"v":-1.2},{"s":"G30","t":443390,"v":-0.8},{"s":"G30","t":443420,"v":-1.1},{"s":"G30","t":443450,"v":-0.8},{"s":"G30","t":443480,"v":-1.2},{"s":"G30","t":443510,"v":-0.9},{"s":"G30","t":443540,"v":-1.1},{"s":"G30","t":443570,"v":-0.8},{"s":"G30","t":443600,"v":-1.2},{"s":"G30","t":443630,"v":-0.9},{"s":"G30","t":443660,"v":-1.1},{"s":"G30","t":443690,"v":-0.8},{"s":"G30","t":443720,"v":-1.3},{"s":"G30","t":443750,"v":-1.5},{"s":"G30","t":443790,"v":-1.8},{"s":"G30","t":443830,"v":-1.5},{"s":"G30","t":443870,"v":-1.7},{"s":"G30","t":443910,"v":-1.6},{"s":"G30","t":443950,"v":-1.9},
      {"s":"G30","t":444100,"v":3.2},{"s":"G30","t":444230,"v":3.9},{"s":"G30","t":444330,"v":3.3},{"s":"G30","t":444360,"v":3.5},{"s":"G30","t":444390,"v":3.2},{"s":"G30","t":444410,"v":3.5},
      {"s":"E13","t":442720,"v":1.0},{"s":"E13","t":443180,"v":0.5},{"s":"E13","t":443270,"v":0.9},
      {"s":"E21","t":444160,"v":-0.8},{"s":"E21","t":444200,"v":-1.4},{"s":"E21","t":444240,"v":-1.0},{"s":"E21","t":444300,"v":-1.2},
      {"s":"E26","t":442590,"v":-0.2},{"s":"E26","t":442650,"v":0.3},{"s":"E26","t":442710,"v":-0.1},{"s":"E26","t":442760,"v":1.0},{"s":"E26","t":442770,"v":0.3},{"s":"E26","t":442830,"v":0.0},{"s":"E26","t":442890,"v":0.3},{"s":"E26","t":442950,"v":0.1},{"s":"E26","t":443600,"v":-0.2},{"s":"E26","t":443800,"v":0.0},{"s":"E26","t":444050,"v":1.0},{"s":"E26","t":444150,"v":0.9},{"s":"E26","t":444310,"v":0.8},{"s":"E26","t":444380,"v":0.9},
      {"s":"E27","t":442560,"v":0.3},{"s":"E27","t":442580,"v":-0.1},{"s":"E27","t":442600,"v":0.15},{"s":"E27","t":442620,"v":-0.05},{"s":"E27","t":442640,"v":0.35},{"s":"E27","t":442660,"v":-0.15},{"s":"E27","t":442680,"v":0.2},{"s":"E27","t":442700,"v":0.0},{"s":"E27","t":442720,"v":0.3},{"s":"E27","t":442740,"v":-0.1},{"s":"E27","t":442760,"v":0.15},{"s":"E27","t":442780,"v":-0.05},{"s":"E27","t":442800,"v":0.35},{"s":"E27","t":442820,"v":-0.15},{"s":"E27","t":442840,"v":0.2},{"s":"E27","t":442860,"v":0.0},{"s":"E27","t":442880,"v":0.3},{"s":"E27","t":442900,"v":-0.1},{"s":"E27","t":442920,"v":0.15},{"s":"E27","t":442940,"v":-0.05},{"s":"E27","t":442960,"v":0.35},{"s":"E27","t":442975,"v":-0.15},
      {"s":"E27","t":443200,"v":0.3},{"s":"E27","t":443220,"v":-0.1},{"s":"E27","t":443240,"v":0.15},{"s":"E27","t":443260,"v":-0.05},{"s":"E27","t":443280,"v":0.35},{"s":"E27","t":443300,"v":-0.15},{"s":"E27","t":443320,"v":0.2},{"s":"E27","t":443340,"v":0.0},{"s":"E27","t":443360,"v":0.3},{"s":"E27","t":443380,"v":-0.1},{"s":"E27","t":443400,"v":0.15},{"s":"E27","t":443420,"v":-0.05},{"s":"E27","t":443440,"v":0.35},{"s":"E27","t":443460,"v":-0.15},{"s":"E27","t":443480,"v":0.2},{"s":"E27","t":443500,"v":0.0},{"s":"E27","t":443520,"v":0.3},{"s":"E27","t":443540,"v":-0.1},{"s":"E27","t":443560,"v":0.15},{"s":"E27","t":443580,"v":-0.05},{"s":"E27","t":443600,"v":0.35},{"s":"E27","t":443620,"v":-0.15},{"s":"E27","t":443640,"v":0.2},{"s":"E27","t":443660,"v":0.0},{"s":"E27","t":443680,"v":0.3},{"s":"E27","t":443700,"v":-0.1},{"s":"E27","t":443720,"v":0.15},{"s":"E27","t":443740,"v":-0.05},{"s":"E27","t":443760,"v":0.35},{"s":"E27","t":443780,"v":-0.15},{"s":"E27","t":443800,"v":0.2},{"s":"E27","t":443820,"v":0.0},{"s":"E27","t":443840,"v":0.3},{"s":"E27","t":443860,"v":-0.1},{"s":"E27","t":443880,"v":0.15},{"s":"E27","t":443900,"v":-0.05},{"s":"E27","t":443920,"v":0.35},{"s":"E27","t":443940,"v":-0.15},{"s":"E27","t":443960,"v":0.2},{"s":"E27","t":443980,"v":0.0},{"s":"E27","t":444000,"v":0.3},{"s":"E27","t":444020,"v":-0.1},{"s":"E27","t":444040,"v":0.15}
    ]
  },
  "hconcat": [
    {
      "width": 222,
      "height": 206,
      "layer": [
        {
          "data": {"name": "p1"},
          "mark": {"type": "point", "filled": true, "size": 30, "opacity": 1, "clip": true},
          "encoding": {
            "x": {"field": "t", "type": "quantitative", "scale": {"domain": [442500, 444500], "nice": false, "zero": false}, "axis": {"values": [443000, 444000], "labelExpr": "'' + datum.value", "title": null}},
            "y": {"field": "v", "type": "quantitative", "scale": {"domain": [-12, 12], "nice": false}, "axis": {"values": [-10, 0, 10], "labelExpr": "'' + datum.value", "title": "Ion dif (cm)"}},
            "color": {"field": "s", "type": "nominal",
              "scale": {"domain": ["G01","G03","G07","G08","G14","G17","G19","G21","G30","E13","E21","E26","E27","E33"],
                        "range": ["#4C72B0","#DD8452","#55A868","#C44E52","#8172B3","#937860","#DA8BC3","#8C8C8C","#CCB974","#64B5CD","#4C72B0","#DD8452","#55A868","#C44E52"]},
              "legend": {"title": "\u00a0", "titleOrient": "right", "titlePadding": 19, "titleFontSize": 10, "orient": "none", "legendX": -21, "legendY": -106, "columns": 5, "gridAlign": "all", "symbolType": "circle", "symbolSize": 16, "symbolOffset": 11, "symbolStrokeWidth": 0, "labelFontSize": 20, "labelOffset": 31, "labelColor": "#262626", "columnPadding": 39, "rowPadding": 9.5, "padding": 8, "strokeColor": "#cccccc", "fillColor": "#ffffff", "cornerRadius": 4}}
          }
        },
        {
          "data": {"name": "thres"},
          "mark": {"type": "rule", "strokeDash": [10, 5], "strokeWidth": 2.6, "color": "#111111"},
          "encoding": {"y": {"field": "v", "type": "quantitative"}}
        },
        {
          "data": {"name": "notes"},
          "transform": [{"filter": "datum.p == 1"}],
          "mark": {"type": "text", "align": "left", "baseline": "alphabetic", "fontSize": 20.5, "color": "#1a1a1a"},
          "encoding": {"x": {"field": "t", "type": "quantitative"}, "y": {"field": "v", "type": "quantitative"}, "text": {"field": "txt"}}
        }
      ]
    },
    {
      "width": 222,
      "height": 206,
      "layer": [
        {
          "data": {"name": "p2"},
          "mark": {"type": "point", "filled": true, "size": 30, "opacity": 1, "clip": true},
          "encoding": {
            "x": {"field": "t", "type": "quantitative", "scale": {"domain": [442500, 444500], "nice": false, "zero": false}, "axis": {"values": [443000, 444000], "labelExpr": "'' + datum.value", "title": "Seconds of week (s)"}},
            "y": {"field": "v", "type": "quantitative", "scale": {"domain": [-12, 12], "nice": false}, "axis": null},
            "color": {"field": "s", "type": "nominal",
              "scale": {"domain": ["G01","G03","G07","G08","G14","G17","G19","G21","G30","E13","E21","E26","E27","E33"],
                        "range": ["#4C72B0","#DD8452","#55A868","#C44E52","#8172B3","#937860","#DA8BC3","#8C8C8C","#CCB974","#64B5CD","#4C72B0","#DD8452","#55A868","#C44E52"]},
              "legend": {"title": "\u00a0", "titleOrient": "right", "titlePadding": 19, "titleFontSize": 10, "orient": "none", "legendX": -21, "legendY": -106, "columns": 5, "gridAlign": "all", "symbolType": "circle", "symbolSize": 16, "symbolOffset": 11, "symbolStrokeWidth": 0, "labelFontSize": 20, "labelOffset": 31, "labelColor": "#262626", "columnPadding": 39, "rowPadding": 9.5, "padding": 8, "strokeColor": "#cccccc", "fillColor": "#ffffff", "cornerRadius": 4}}
          }
        },
        {
          "data": {"name": "thres"},
          "mark": {"type": "rule", "strokeDash": [10, 5], "strokeWidth": 2.6, "color": "#111111"},
          "encoding": {"y": {"field": "v", "type": "quantitative"}}
        },
        {
          "data": {"name": "notes"},
          "transform": [{"filter": "datum.p == 2"}],
          "mark": {"type": "text", "align": "left", "baseline": "alphabetic", "fontSize": 20.5, "color": "#1a1a1a"},
          "encoding": {"x": {"field": "t", "type": "quantitative"}, "y": {"field": "v", "type": "quantitative"}, "text": {"field": "txt"}}
        }
      ]
    },
    {
      "width": 222,
      "height": 206,
      "layer": [
        {
          "data": {"name": "p3"},
          "mark": {"type": "point", "filled": true, "size": 30, "opacity": 1, "clip": true},
          "encoding": {
            "x": {"field": "t", "type": "quantitative", "scale": {"domain": [442500, 444500], "nice": false, "zero": false}, "axis": {"values": [443000, 444000], "labelExpr": "'' + datum.value", "title": null}},
            "y": {"field": "v", "type": "quantitative", "scale": {"domain": [-12, 12], "nice": false}, "axis": null},
            "color": {"field": "s", "type": "nominal",
              "scale": {"domain": ["G01","G03","G07","G08","G14","G17","G19","G21","G30","E13","E21","E26","E27","E33"],
                        "range": ["#4C72B0","#DD8452","#55A868","#C44E52","#8172B3","#937860","#DA8BC3","#8C8C8C","#CCB974","#64B5CD","#4C72B0","#DD8452","#55A868","#C44E52"]},
              "legend": {"title": "\u00a0", "titleOrient": "right", "titlePadding": 19, "titleFontSize": 10, "orient": "none", "legendX": -21, "legendY": -106, "columns": 5, "gridAlign": "all", "symbolType": "circle", "symbolSize": 16, "symbolOffset": 11, "symbolStrokeWidth": 0, "labelFontSize": 20, "labelOffset": 31, "labelColor": "#262626", "columnPadding": 39, "rowPadding": 9.5, "padding": 8, "strokeColor": "#cccccc", "fillColor": "#ffffff", "cornerRadius": 4}}
          }
        },
        {
          "data": {"name": "thres"},
          "mark": {"type": "rule", "strokeDash": [10, 5], "strokeWidth": 2.6, "color": "#111111"},
          "encoding": {"y": {"field": "v", "type": "quantitative"}}
        },
        {
          "data": {"name": "notes"},
          "transform": [{"filter": "datum.p == 3"}],
          "mark": {"type": "text", "align": "left", "baseline": "alphabetic", "fontSize": 20.5, "color": "#1a1a1a"},
          "encoding": {"x": {"field": "t", "type": "quantitative"}, "y": {"field": "v", "type": "quantitative"}, "text": {"field": "txt"}}
        }
      ]
    }
  ],
  "config": {
    "font": "Liberation Sans",
    "view": {"stroke": "#262626", "strokeWidth": 2},
    "concat": {"spacing": 10},
    "axis": {"grid": false, "domain": false, "tickSize": -11, "tickWidth": 2, "tickColor": "#262626", "labelFlush": false, "labelFontSize": 20.5, "labelColor": "#262626", "titleFontSize": 20.5, "titleFontWeight": "normal", "titleColor": "#262626"},
    "axisX": {"labelPadding": 21, "titlePadding": 4},
    "axisY": {"labelPadding": 19, "titlePadding": 8}
  }
}
